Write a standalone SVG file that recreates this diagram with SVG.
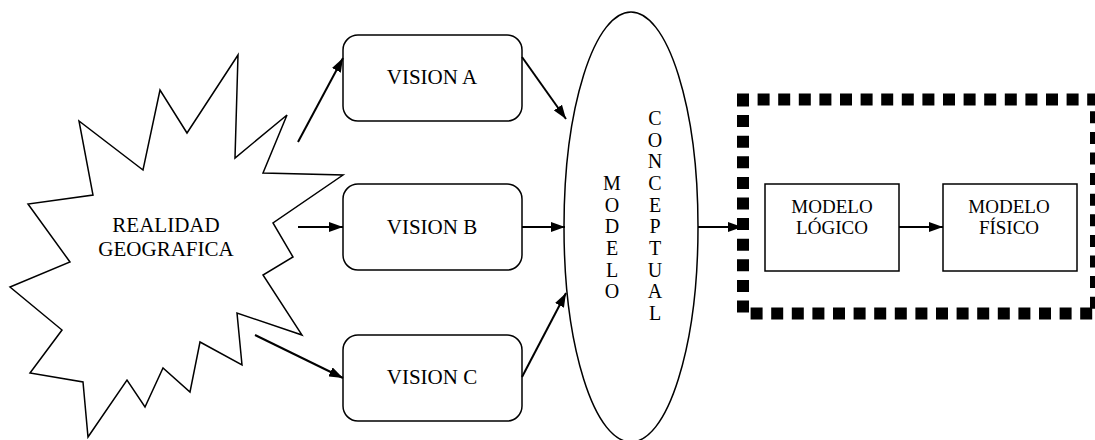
<svg xmlns="http://www.w3.org/2000/svg" width="1095" height="440" viewBox="0 0 1095 440">
<defs>
<marker id="ah" viewBox="0 0 14 10" refX="14" refY="5" markerWidth="14" markerHeight="10" markerUnits="userSpaceOnUse" orient="auto">
<path d="M0,0 L14,5 L0,10 Z" fill="#000"/>
</marker>
</defs>
<style>
text{font-family:"Liberation Serif","Times New Roman",serif;fill:#000;text-anchor:middle}
.t{font-size:21px}
.s{font-size:19px}
.v{font-size:20px}
.box{fill:#fff;stroke:#000;stroke-width:1.5}
.c{stroke:#000;stroke-width:2;fill:none;marker-end:url(#ah)}
</style>
<rect width="1095" height="440" fill="#fff"/>
<g id="realidad">
<polygon class="box" points="238,55 235,158 287,115 263,173 343,175 273,223 293,257 263,275 302,335 237,313 242,365 200,342 190,392 163,368 145,407 127,380 88,437 83,382 30,373 62,330 10,287 70,262 28,204 93,195 79,121 143,170 160,90 187,133"/>
<text class="t" x="166" y="232">REALIDAD</text>
<text class="t" x="166" y="256">GEOGRAFICA</text>
</g>
<g id="visionA">
<rect class="box" x="343" y="35" width="179" height="86" rx="15"/>
<text class="t" x="432" y="84">VISION A</text>
</g>
<g id="visionB">
<rect class="box" x="343" y="184" width="179" height="86" rx="15"/>
<text class="t" x="432" y="234">VISION B</text>
</g>
<g id="visionC">
<rect class="box" x="343" y="335" width="179" height="86" rx="15"/>
<text class="t" x="432" y="384">VISION C</text>
</g>
<g id="modeloConceptual">
<ellipse class="box" cx="631" cy="227" rx="67" ry="215"/>
<g class="v">
<text x="612" y="190">M</text>
<text x="612" y="212">O</text>
<text x="612" y="233">D</text>
<text x="612" y="255">E</text>
<text x="612" y="277">L</text>
<text x="612" y="298">O</text>
<text x="655" y="125">C</text>
<text x="655" y="147">O</text>
<text x="655" y="168">N</text>
<text x="655" y="190">C</text>
<text x="655" y="212">E</text>
<text x="655" y="233">P</text>
<text x="655" y="255">T</text>
<text x="655" y="277">U</text>
<text x="655" y="298">A</text>
<text x="655" y="320">L</text>
</g>
</g>
<g id="grupoLogicoFisico">
<rect x="743" y="99.5" width="353" height="214" fill="none" stroke="#000" stroke-width="12" stroke-dasharray="12 8.6" stroke-dashoffset="6"/>
</g>
<g id="modeloLogico">
<rect class="box" x="765" y="184" width="134" height="87"/>
<text class="s" x="832" y="213">MODELO</text>
<text class="s" x="832" y="234">LÓGICO</text>
</g>
<g id="modeloFisico">
<rect class="box" x="943" y="184" width="134" height="87"/>
<text class="s" x="1009" y="213">MODELO</text>
<text class="s" x="1009" y="234">FÍSICO</text>
</g>
<g id="connectors">
<line class="c" x1="298" y1="142" x2="343" y2="58"/>
<line class="c" x1="298" y1="227" x2="343" y2="227"/>
<line class="c" x1="255" y1="335" x2="343" y2="378"/>
<line class="c" x1="522" y1="57" x2="566" y2="119"/>
<line class="c" x1="522" y1="227" x2="565" y2="227"/>
<line class="c" x1="522" y1="377" x2="566" y2="293"/>
<line class="c" x1="698" y1="227" x2="742" y2="227"/>
<line class="c" x1="899" y1="227" x2="943" y2="227"/>
</g>
</svg>
